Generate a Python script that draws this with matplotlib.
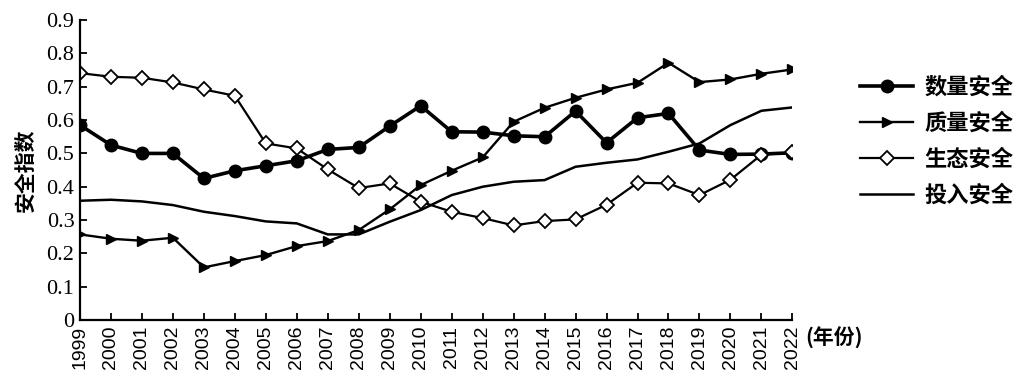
import matplotlib
matplotlib.use("Agg")
import matplotlib.pyplot as plt
from matplotlib.legend_handler import HandlerLine2D

plt.rcParams["font.family"] = ["Noto Sans CJK SC", "DejaVu Sans"]

years = list(range(1999, 2023))

# 数量安全
quantity = [0.585, 0.525, 0.500, 0.500, 0.425, 0.448, 0.463, 0.478, 0.512, 0.518,
            0.582, 0.643, 0.565, 0.564, 0.553, 0.550, 0.627, 0.532, 0.607, 0.620,
            0.510, 0.497, 0.498, 0.502]
# 质量安全
quality = [0.257, 0.244, 0.238, 0.247, 0.158, 0.177, 0.195, 0.222, 0.237, 0.270,
           0.332, 0.405, 0.448, 0.488, 0.595, 0.637, 0.667, 0.692, 0.712, 0.772,
           0.714, 0.722, 0.739, 0.752]
# 生态安全
ecology = [0.741, 0.730, 0.727, 0.713, 0.692, 0.673, 0.530, 0.515, 0.452, 0.396,
           0.410, 0.355, 0.325, 0.306, 0.284, 0.297, 0.302, 0.346, 0.412, 0.410,
           0.375, 0.421, 0.496, 0.503]
# 投入安全
inputs = [0.358, 0.361, 0.356, 0.345, 0.325, 0.312, 0.296, 0.290, 0.257, 0.257,
          0.295, 0.330, 0.375, 0.400, 0.415, 0.420, 0.460, 0.472, 0.482, 0.505,
          0.530, 0.585, 0.628, 0.638]

labels = ["数量安全", "质量安全", "生态安全", "投入安全"]


class EndMarkerHandler(HandlerLine2D):
    # put the legend marker at the right end of the line sample
    def get_xdata(self, legend, xdescent, ydescent, width, height, fontsize):
        xl = [-xdescent, -xdescent + width]
        xm = [-xdescent + width - 4]
        return xl, xm


fig = plt.figure(figsize=(10.28, 3.87), dpi=100)
ax = fig.add_axes([0.0778, 0.173, 0.693, 0.775])

ax.plot(years, quantity, color="black", lw=2.6, marker="o", ms=9,
        mfc="black", mec="black", label=labels[0])
ax.plot(years, quality, color="black", lw=1.7, marker=">", ms=7,
        mfc="black", mec="black", label=labels[1])
ax.plot(years, ecology, color="black", lw=1.6, marker="D", ms=7,
        mfc="white", mec="black", mew=1.3, label=labels[2])
ax.plot(years, inputs, color="black", lw=1.8, label=labels[3])

ax.set_xlim(1999, 2022)
ax.set_ylim(0, 0.9)
ax.set_xticks(years)
ax.set_xticklabels([str(y) for y in years], rotation=90, fontsize=14,
                   family="Liberation Sans")
ax.set_yticks([i / 10 for i in range(10)])
ax.set_yticklabels(["0"] + ["0.%d" % i for i in range(1, 10)], fontsize=16,
                   family="Liberation Serif")
ax.tick_params(direction="in", length=5, width=1.3, pad=4)

for s in ["top", "right"]:
    ax.spines[s].set_visible(False)
for s in ["left", "bottom"]:
    ax.spines[s].set_linewidth(1.6)

ax.set_ylabel("安全指数", fontsize=15, fontweight="bold", labelpad=8)
ax.text(1.018, -0.06, "(年份)", transform=ax.transAxes, fontsize=15,
        fontweight="bold", ha="left", va="center")

leg = ax.legend(loc="upper left", bbox_to_anchor=(1.067, 0.88), frameon=False,
                fontsize=16, handlelength=2.4, handletextpad=0.5,
                labelspacing=0.58, handler_map={plt.Line2D: EndMarkerHandler()})
for t in leg.get_texts():
    t.set_fontweight("bold")

fig.savefig("out.png", dpi=100)
